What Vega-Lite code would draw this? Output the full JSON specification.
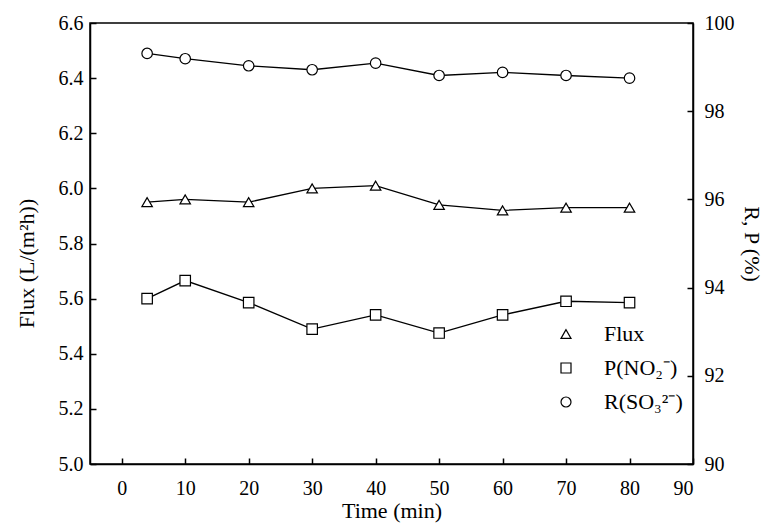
{
  "$schema": "https://vega.github.io/schema/vega-lite/v6.json",
  "width": 603,
  "height": 441,
  "autosize": {"type": "none"},
  "padding": {"left": 90, "top": 23, "right": 72, "bottom": 66},
  "background": "white",
  "config": {
    "view": {"stroke": "black", "strokeWidth": 1.5},
    "font": "Liberation Serif",
    "axis": {
      "grid": false,
      "domainColor": "black",
      "domainWidth": 1.5,
      "tickColor": "black",
      "tickWidth": 1.5,
      "tickSize": -6,
      "labelColor": "black",
      "titleColor": "black",
      "labelFont": "Liberation Serif",
      "titleFont": "Liberation Serif",
      "labelFontSize": 20,
      "titleFontSize": 22,
      "titleFontWeight": "normal"
    }
  },
  "data": {
    "values": [
      {"t": 4, "series": "Flux", "value": 5.95},
      {"t": 10, "series": "Flux", "value": 5.96},
      {"t": 20, "series": "Flux", "value": 5.95},
      {"t": 30, "series": "Flux", "value": 6.00},
      {"t": 40, "series": "Flux", "value": 6.01},
      {"t": 50, "series": "Flux", "value": 5.94},
      {"t": 60, "series": "Flux", "value": 5.92},
      {"t": 70, "series": "Flux", "value": 5.93},
      {"t": 80, "series": "Flux", "value": 5.93},
      {"t": 4, "series": "P", "value": 93.75},
      {"t": 10, "series": "P", "value": 94.16},
      {"t": 20, "series": "P", "value": 93.66},
      {"t": 30, "series": "P", "value": 93.06},
      {"t": 40, "series": "P", "value": 93.38},
      {"t": 50, "series": "P", "value": 92.97},
      {"t": 60, "series": "P", "value": 93.38},
      {"t": 70, "series": "P", "value": 93.69},
      {"t": 80, "series": "P", "value": 93.66},
      {"t": 4, "series": "R", "value": 99.31},
      {"t": 10, "series": "R", "value": 99.19},
      {"t": 20, "series": "R", "value": 99.03},
      {"t": 30, "series": "R", "value": 98.94},
      {"t": 40, "series": "R", "value": 99.09},
      {"t": 50, "series": "R", "value": 98.81},
      {"t": 60, "series": "R", "value": 98.88},
      {"t": 70, "series": "R", "value": 98.81},
      {"t": 80, "series": "R", "value": 98.75}
    ]
  },
  "layer": [
    {
      "transform": [{"filter": "datum.series == 'Flux'"}],
      "encoding": {
        "x": {"field": "t", "type": "quantitative", "scale": {"domain": [-5, 90]}, "axis": {"values": [0, 10, 20, 30, 40, 50, 60, 70, 80, 90], "title": "Time (min)", "labelPadding": 20, "titlePadding": 2, "titleFontWeight": "normal"}},
        "y": {"field": "value", "type": "quantitative", "scale": {"domain": [5, 6.6]}, "axis": {"orient": "left", "values": [5, 5.2, 5.4, 5.6, 5.8, 6, 6.2, 6.4, 6.6], "format": ".1f", "title": "Flux (L/(m²h))", "labelPadding": 13, "titlePadding": 20, "titleY": 240, "titleFontWeight": "normal"}}
      },
      "layer": [
        {"mark": {"type": "line", "color": "black", "strokeWidth": 1.3}},
        {
          "mark": {"type": "point", "filled": true, "fill": "white", "stroke": "black", "strokeWidth": 1.2, "size": 110, "opacity": 1},
          "encoding": {
            "shape": {
              "field": "series", "type": "nominal",
              "scale": {"domain": ["Flux", "P", "R"], "range": ["triangle-up", "square", "circle"]},
              "legend": {
                "title": null,
                "orient": "none",
                "legendX": 465,
                "legendY": 300,
                "labelFont": "Liberation Serif",
                "labelFontSize": 22,
                "labelColor": "black",
                "symbolSize": 100,
                "symbolStrokeWidth": 1.2,
                "rowPadding": 12,
                "labelOffset": 27,
                "labelExpr": "datum.value == 'Flux' ? 'Flux' : datum.value == 'P' ? 'P(NO₂⁻)' : 'R(SO₃²⁻)'"
              }
            }
          }
        }
      ]
    },
    {
      "transform": [{"filter": "datum.series != 'Flux'"}],
      "encoding": {
        "x": {"field": "t", "type": "quantitative", "scale": {"domain": [-5, 90]}, "axis": {"values": [0, 10, 20, 30, 40, 50, 60, 70, 80, 90], "title": "Time (min)", "labelPadding": 20, "titlePadding": 2, "titleFontWeight": "normal"}},
        "y": {"field": "value", "type": "quantitative", "scale": {"domain": [90, 100]}, "axis": {"orient": "right", "values": [90, 92, 94, 96, 98, 100], "title": "R, P (%)", "labelPadding": 17, "titlePadding": 5, "titleFontWeight": "normal"}}
      },
      "layer": [
        {"mark": {"type": "line", "color": "black", "strokeWidth": 1.3}, "encoding": {"detail": {"field": "series"}}},
        {
          "mark": {"type": "point", "filled": true, "fill": "white", "stroke": "black", "strokeWidth": 1.2, "size": 110, "opacity": 1},
          "encoding": {"shape": {"field": "series", "type": "nominal"}}
        }
      ]
    }
  ],
  "resolve": {"scale": {"y": "independent"}}
}
